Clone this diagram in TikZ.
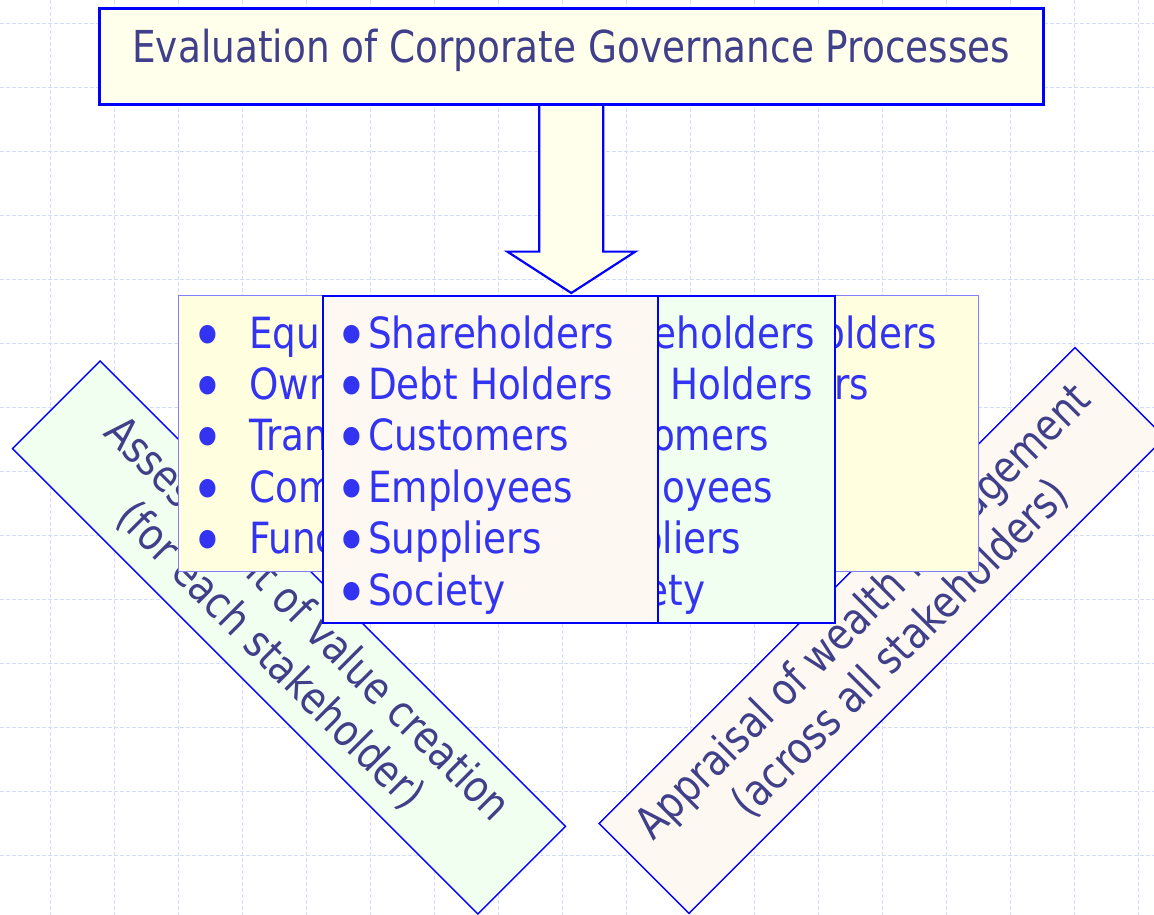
\documentclass[tikz,border=0pt]{standalone}
\usepackage{fontspec}
\setmainfont{DejaVu Sans}[FakeStretch=0.85]
\newfontfamily\listfont{DejaVu Sans}[FakeStretch=0.868]
\usetikzlibrary{calc}

\definecolor{gridline}{HTML}{D4DCFA}
\definecolor{edge}{HTML}{0000FF}
\definecolor{softedge}{HTML}{8080FF}
\definecolor{ink}{HTML}{3F3F8A}
\definecolor{listink}{HTML}{3333F2}
\definecolor{cream}{HTML}{FFFFEB}
\definecolor{lemon}{HTML}{FFFFE0}
\definecolor{peach}{HTML}{FDF8F2}
\definecolor{mint}{HTML}{F1FFF1}

\pgfdeclarelayer{back}
\pgfsetlayers{back,main}

\begin{document}
\begin{tikzpicture}[x=1pt,y=-1pt,
  gridrule/.style={draw=gridline, line width=0.8pt, dash pattern=on 4pt off 2pt},
  panel/.style={anchor=north west, inner sep=0pt},
  listtext/.style={text=listink, font=\listfont\fontsize{43}{43}\selectfont, inner sep=0pt, anchor=base west},
  dot/.style={text=listink, font=\listfont\fontsize{64}{64}\selectfont, inner sep=0pt, anchor=base},
  slab/.style={draw=edge, line width=1.4pt, inner sep=0pt, align=center, text=ink,
    font=\fontsize{44}{52}\selectfont},
  blockarrow/.style={draw=edge, line width=2.2pt, fill=cream, line join=miter}
]
\useasboundingbox (0,0) rectangle (1154,915);

% paper with dashed grid
\begin{pgfonlayer}{back}
  \fill[white] (0,0) rectangle (1154,915);
  \foreach \gx in {50,114,...,1138} \draw[gridrule] (\gx,0) -- (\gx,915);
  \foreach \gy in {23,87,...,855} \draw[gridrule] (0,\gy) -- (1154,\gy);
\end{pgfonlayer}

% tilted assessment panels
\node[slab, fill=mint, rotate=-45, minimum width=658pt, minimum height=124pt]
  (value) at (289,637.5) {Assessment of value creation\\(for each stakeholder)};
\node[slab, fill=peach, rotate=45, minimum width=673pt, minimum height=127pt]
  (wealth) at (882,630.5) {Appraisal of wealth management\\(across all stakeholders)};

% governance dimensions (rear panel)
\node[panel, draw=softedge, line width=1.4pt, fill=lemon, minimum width=800pt, minimum height=276pt]
  (dims) at (178,295) {};
\foreach \word [count=\i] in {Equ, Own, Tran, Com, Func} {
  \node[dot] (db\i) at (208, {358+51.4*(\i-1)}) {•};
  \node[listtext] (dt\i) at (249, {348+51.4*(\i-1)}) {\word};
}
\node[listtext, anchor=base east] (dr1) at (937,348) {olders};
\node[listtext, anchor=base east] (dr2) at (869,399.4) {rs};

% stakeholder panel (middle)
\node[panel, draw=edge, line width=2pt, fill=mint, minimum width=335pt, minimum height=327pt]
  (mid) at (499,295) {};
\foreach \hid/\shown [count=\i] in {Shar/eholders, Debt /Holders, Cust/omers, Empl/oyees, Sup/pliers, Soci/ety} {
  \node[listtext] (mt\i) at (568, {348+51.4*(\i-1)}) {\phantom{\hid}\shown};
}

% stakeholder panel (front)
\node[panel, draw=edge, line width=2pt, fill=peach, minimum width=335pt, minimum height=327pt]
  (stake) at (322,295) {};
\foreach \word [count=\i] in {Shareholders, Debt Holders, Customers, Employees, Suppliers, Society} {
  \node[dot] (sb\i) at (352, {358+51.4*(\i-1)}) {•};
  \node[listtext] (st\i) at (368, {348+51.4*(\i-1)}) {\word};
}

% heading
\node[panel, draw=edge, line width=2.6pt, fill=cream, minimum width=944pt, minimum height=96pt,
  text=ink, font=\fontsize{44}{44}\selectfont, text height=32pt, text depth=20pt]
  (title) at (98,7) {Evaluation of Corporate Governance Processes};

% block arrow from the heading down to the stakeholder panels
\coordinate (tip) at ($(title.south |- stake.north)+(0,-2)$);
\begin{pgfonlayer}{back}
  \draw[blockarrow] ($(title.south)+(-32,0)$) -- ($(title.south)+(-32,146)$)
    -- ($(title.south)+(-64,146)$) -- (tip) -- ($(title.south)+(64,146)$)
    -- ($(title.south)+(32,146)$) -- ($(title.south)+(32,0)$);
\end{pgfonlayer}
\end{tikzpicture}
\end{document}
